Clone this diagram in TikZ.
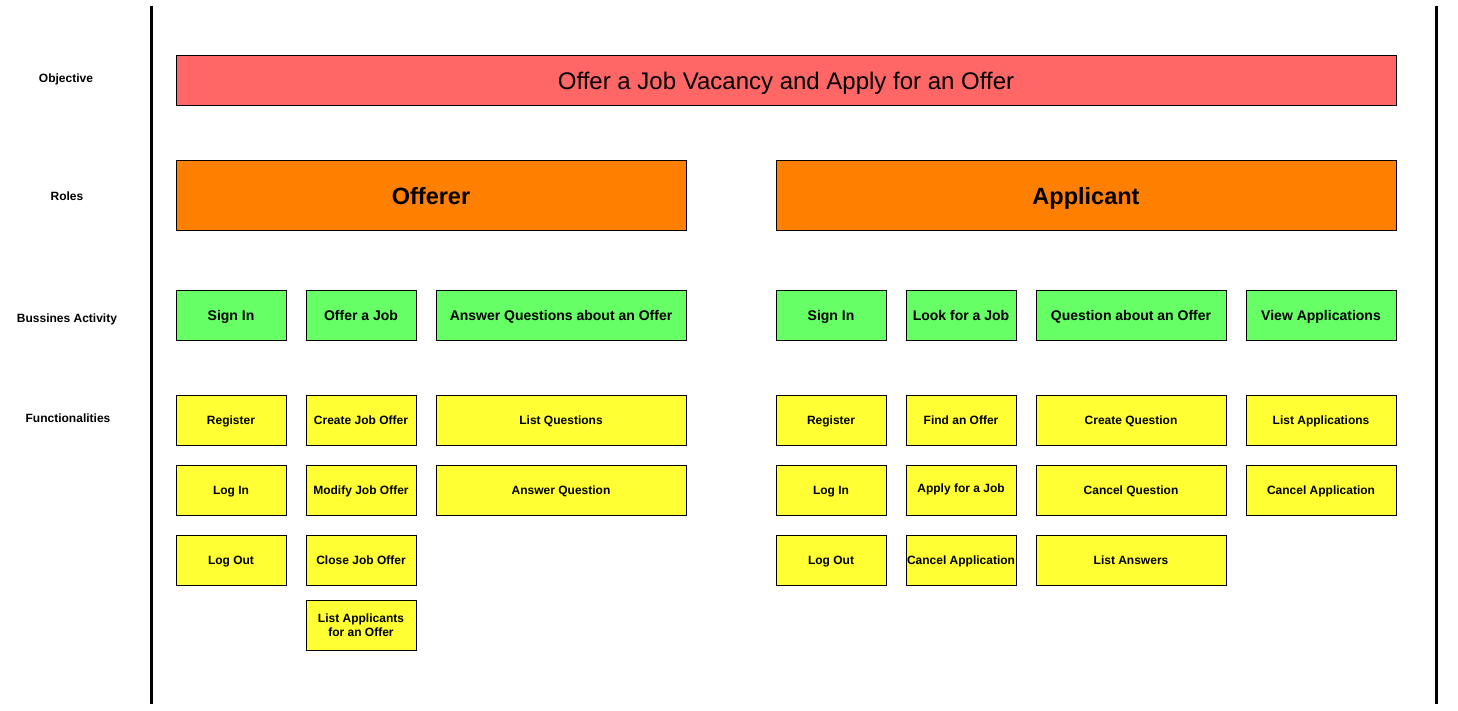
\documentclass[tikz,border=0pt]{standalone}
\usepackage{fontspec}
\setmainfont{Liberation Sans}
\usepackage{xcolor}
\usepackage{tikz}
\usetikzlibrary{calc}

\definecolor{objred}{HTML}{FF6666}
\definecolor{roleorange}{HTML}{FF8000}
\definecolor{actgreen}{HTML}{66FF66}
\definecolor{funyellow}{HTML}{FFFF33}

\begin{document}
\begin{tikzpicture}[x=1pt,y=-1pt,
    box/.style={draw,line width=.8pt,inner sep=0pt,align=center,text height=8.6pt,text depth=0pt,font=\bfseries\fontsize{12}{14}\selectfont},
    objbox/.style={box,fill=objred,minimum width=1220pt,minimum height=50pt,text height=19.2pt,font=\fontsize{24}{28}\selectfont},
    rolebox/.style={box,fill=roleorange,minimum height=70pt,text height=18.8pt,font=\bfseries\fontsize{23.5}{28}\selectfont},
    actbox/.style={box,fill=actgreen,minimum width=110pt,minimum height=50pt,text height=10pt,font=\bfseries\fontsize{14}{16}\selectfont},
    funbox/.style={box,fill=funyellow,minimum width=110pt,minimum height=50pt},
    lanelabel/.style={text height=10pt,text depth=0pt,font=\bfseries\fontsize{12}{14}\selectfont}]
        \useasboundingbox (0,0) rectangle (1458,710);

        % lane borders
        \coordinate (ltop) at (151,6);
        \coordinate (lbot) at (151,704);
        \coordinate (rtop) at (1436,6);
        \coordinate (rbot) at (1436,704);
        \draw[line width=3pt](ltop)--(lbot);
        \draw[line width=3pt](rtop)--(rbot);

        % lane labels
        \node[lanelabel] (lObj) at (66,77) {Objective};
        \node[lanelabel] (lRol) at (67,195) {Roles};
        \node[lanelabel] (lAct) at (67,317) {Bussines Activity};
        \node[lanelabel] (lFun) at (68,417) {Functionalities};

        % objective
        \node[objbox] (obj) at (786,80) {Offer a Job Vacancy and Apply for an Offer};

        % roles
        \node[rolebox,minimum width=510pt] (offerer) at (431,195) {Offerer};
        \node[rolebox,minimum width=620pt] (applicant) at (1086,195) {Applicant};

        % business activities
        \node[actbox] (oSign) at (231,315) {Sign In};
        \node[actbox] (oJob) at (361,315) {Offer a Job};
        \node[actbox,minimum width=250pt] (oAns) at (561,315) {Answer Questions about an Offer};
        \node[actbox] (aSign) at (831,315) {Sign In};
        \node[actbox] (aLook) at (961,315) {Look for a Job};
        \node[actbox,minimum width=190pt] (aQuest) at (1131,315) {Question about an Offer};
        \node[actbox,minimum width=150pt] (aView) at (1321,315) {View Applications};

        % functionalities, offerer
        \node[funbox] (oReg) at (231,420) {Register};
        \node[funbox] (oLogIn) at (231,490) {Log In};
        \node[funbox] (oLogOut) at (231,560) {Log Out};
        \node[funbox] (oCreate) at (361,420) {Create Job Offer};
        \node[funbox] (oModify) at (361,490) {Modify Job Offer};
        \node[funbox] (oClose) at (361,560) {Close Job Offer};
        \node[funbox,text height={},text depth={}] (oListApp) at (361,625) {List Applicants\\for an Offer};
        \node[funbox,minimum width=250pt] (oListQ) at (561,420) {List Questions};
        \node[funbox,minimum width=250pt] (oAnsQ) at (561,490) {Answer Question};

        % functionalities, applicant
        \node[funbox] (aReg) at (831,420) {Register};
        \node[funbox] (aLogIn) at (831,490) {Log In};
        \node[funbox] (aLogOut) at (831,560) {Log Out};
        \node[funbox] (aFind) at (961,420) {Find an Offer};
        \node[funbox,text depth=4pt] (aApply) at (961,490) {Apply for a Job};
        \node[funbox] (aCancelApp) at (961,560) {Cancel Application};
        \node[funbox,minimum width=190pt] (aCreateQ) at (1131,420) {Create Question};
        \node[funbox,minimum width=190pt] (aCancelQ) at (1131,490) {Cancel Question};
        \node[funbox,minimum width=190pt] (aListAns) at (1131,560) {List Answers};
        \node[funbox,minimum width=150pt] (aListApp) at (1321,420) {List Applications};
        \node[funbox,minimum width=150pt] (aCancel) at (1321,490) {Cancel Application};
    \end{tikzpicture}
\end{document}
